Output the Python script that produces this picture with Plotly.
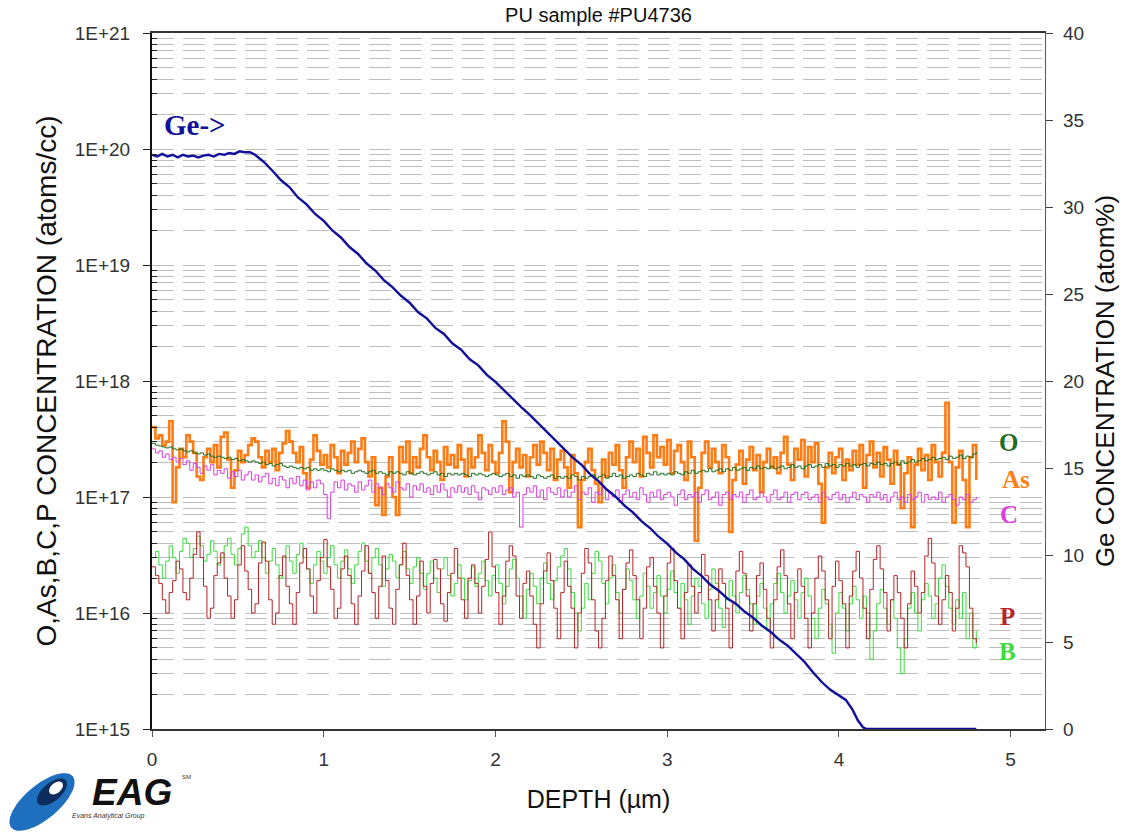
import numpy as np
import plotly.graph_objects as go

# ---------------- data ----------------
STEP = 0.02  # depth step (µm) of the impurity profiles

# O concentration (x1e16 atoms/cc)
O_vals = [
    29, 28, 27.5, 27, 26.5, 27, 26, 25.5, 26, 25,
    24.5, 25, 24, 23.5, 24, 23, 23.5, 22.5, 22, 22.5,
    22, 21.5, 22, 21, 21.5, 20.5, 21, 20.5, 20, 20.5,
    20, 19.5, 20, 19, 19.5, 18.5, 19, 19.5, 18.5, 18,
    18.5, 18, 17.5, 18, 17.5, 18, 17, 17.5, 17, 17.5,
    17, 16.5, 17.5, 17, 16.5, 17, 16.5, 17, 16, 16.5,
    17, 16.5, 16, 16.5, 17, 16, 16.5, 16, 15.5, 16.5,
    16, 16.5, 16, 15.5, 16.5, 16, 15.5, 16, 16.5, 16,
    15.5, 16, 16.5, 15.5, 16, 15, 16, 15.5, 16, 15.5,
    16, 15.5, 15, 16, 15.5, 16, 15.5, 15, 15.5, 16,
    15.5, 15, 15.5, 16, 15, 15.5, 14.5, 15.5, 15, 15.5,
    15, 14.5, 15.5, 15, 14.5, 15, 15.5, 14.5, 15, 14.5,
    15, 14.5, 15.5, 15, 14, 15, 14.5, 15, 15.5, 14.5,
    15, 15.5, 14.5, 15, 16, 15, 15.5, 14.5, 15, 15.5,
    15, 16, 15.5, 15, 16, 15.5, 16.5, 15.5, 16, 15.5,
    16, 15.5, 16.5, 16, 15.5, 16.5, 16, 17, 16, 16.5,
    17, 16.5, 17.5, 16.5, 17, 17.5, 16.5, 17.5, 17, 18,
    17, 17.5, 18, 17, 18, 17.5, 18.5, 17.5, 18, 17.5,
    18.5, 17.5, 18, 18.5, 17.5, 18, 19, 18, 18.5, 17.5,
    18.5, 19, 18, 18.5, 19, 18, 19.5, 18.5, 19, 18,
    19, 18.5, 19.5, 18.5, 19, 18, 19, 19.5, 18.5, 19.5,
    19, 20, 19, 19.5, 18.5, 19.5, 20, 19, 20.5, 19.5,
    20, 21, 20, 20.5, 21.5, 20.5, 21, 22, 21, 21.5,
    22, 21, 22.5, 21.5, 22, 23, 21.5, 22.5, 22, 23.5,
    24.5,
]

# As concentration (x1e16 atoms/cc)
As_vals = [
    40, 32, 34, 28, 30, 45, 9, 18, 26, 22,
    34, 30, 24, 15, 14, 22, 26, 20, 28, 18,
    33, 36, 21, 12, 17, 25, 20, 23, 28, 32,
    30, 22, 18, 25, 20, 26, 17, 24, 29, 37,
    30, 24, 20, 27, 16, 12, 21, 34, 25, 19,
    23, 18, 28, 22, 16, 25, 19, 24, 30, 20,
    26, 32, 20, 15, 22, 8.5, 12, 7, 15, 22,
    10, 7, 27, 20, 30, 16, 22, 18, 26, 34,
    22, 17, 25, 20, 14, 27, 19, 23, 18, 28,
    21, 15, 26, 18, 22, 34, 24, 17, 28, 20,
    16, 24, 45, 30, 11, 20, 26, 18, 23, 15,
    22, 28, 19, 30, 24, 17, 26, 14, 21, 25,
    18, 12, 23, 16, 5.5, 14, 20, 26, 17, 13,
    9, 21, 15, 24, 19, 28, 17, 12, 22, 30,
    20, 26, 15, 33, 24, 18, 34, 22, 27, 19,
    31, 16, 25, 28, 20, 14, 30, 22, 4.2, 12,
    24, 30, 18, 26, 20, 16, 28, 22, 5, 14,
    19, 25, 13, 21, 27, 17, 23, 11, 20, 26,
    18, 22, 16, 24, 33, 19, 14, 26, 21, 31,
    15, 27, 20, 29, 13, 6, 18, 24, 16, 22,
    26, 14, 21, 17, 25, 19, 28, 12, 23, 30,
    18, 24, 15, 27, 21, 13, 25, 19, 8, 16,
    22, 5.5, 19, 26, 17, 23, 14, 28, 20, 15,
    24, 65, 20, 6, 18, 25, 14, 5.5, 22, 28,
    14,
]

# C concentration (x1e16 atoms/cc)
C_vals = [
    26, 24, 25, 22, 23.5, 21, 22, 20, 21.5, 19,
    20.5, 17, 19.5, 18, 16, 18.5, 17, 19, 15.5, 17,
    16, 17.5, 14.5, 16.5, 15, 17, 14, 15.5, 16.5, 14,
    15.5, 13.5, 15, 16, 13, 14.5, 12.5, 15, 14, 12,
    14.5, 13, 15, 12.5, 14, 11.5, 13.5, 12, 14, 13,
    10.5, 6.5, 11, 13.5, 12, 14, 11.5, 13, 12.5, 11,
    13.5, 11.5, 12.5, 14, 11, 13, 12, 10.5, 13, 12,
    11, 13.5, 12, 11.5, 13, 10, 12.5, 11.5, 13, 11,
    12, 10.5, 12.5, 11, 13, 11.5, 10, 12, 11, 12.5,
    11, 12, 10.5, 12.5, 11, 9.5, 12, 11.5, 10.5, 12,
    11, 12.5, 10.5, 11.5, 12, 10, 11, 5.5, 10.5, 12,
    11, 12.5, 10, 11.5, 9.5, 12, 11, 10.5, 12, 10,
    11.5, 10, 11, 12.5, 9.5, 11, 10.5, 12, 9, 11,
    10.5, 12, 9.5, 11, 10, 11.5, 9, 10.5, 11.5, 10,
    11, 9.5, 12, 10.5, 9, 11, 10, 11.5, 9.5, 10.5,
    11, 10, 8.5, 10.5, 11.5, 9.5, 10.5, 10, 11, 9,
    10.5, 11.5, 9.5, 10, 11, 8.5, 10.5, 11, 9.5, 10.5,
    10, 11, 9, 10.5, 11.5, 9.5, 10, 11, 10, 9,
    10.5, 11.5, 9.5, 10, 11, 9, 10.5, 11, 9.5, 10.5,
    11, 9.5, 10, 10.5, 9, 11, 10, 9.5, 10.5, 11,
    9.5, 10.5, 9, 10, 11, 9.5, 10.5, 10, 9, 10.5,
    10, 11, 9.5, 10.5, 9, 10, 11, 9.5, 10, 9,
    10.5, 9.5, 10, 11, 9, 10.5, 9.5, 10, 9.5, 11,
    9, 10, 10.5, 9.5, 8.5, 10, 9.5, 10.5, 9, 9.5,
    10,
]

# P concentration (x1e15 atoms/cc)
P_vals = [
    25, 21, 18, 13, 10, 15, 19, 28, 24, 15,
    13, 20, 32, 50, 30, 17, 9, 11, 21, 27,
    33, 20, 14, 9, 13, 26, 38, 23, 16, 10,
    12, 27, 41, 28, 13, 8, 10, 21, 31, 17,
    12, 8, 15, 27, 36, 24, 14, 10, 19, 30,
    43, 25, 16, 9, 11, 24, 31, 21, 12, 8,
    14, 23, 38, 22, 15, 9, 17, 31, 19, 11,
    8, 16, 26, 40, 21, 13, 8, 14, 28, 17,
    10, 18, 29, 24, 12, 8.5, 15, 22, 36, 20,
    13, 9, 20, 26, 18, 10, 17, 29, 50, 25,
    15, 8, 14, 28, 38, 31, 14, 9, 18, 23,
    14, 8, 5, 12, 23, 33, 19, 11, 6, 15,
    28, 17, 11, 5, 10, 22, 36, 27, 13, 7,
    5, 9, 19, 31, 21, 13, 6, 16, 27, 35,
    21, 13, 6, 11, 25, 30, 17, 10, 5, 14,
    27, 36, 19, 11, 6, 15, 26, 17, 10, 15,
    32, 21, 13, 7, 13, 24, 18, 11, 5, 12,
    23, 34, 22, 14, 7, 12, 21, 27, 16, 9,
    5, 13, 25, 35, 21, 12, 6, 15, 24, 17,
    9, 5, 10, 20, 31, 23, 13, 6, 17, 28,
    19, 12, 5, 14, 23, 34, 20, 11, 6, 16,
    29, 38, 24, 15, 7, 13, 21, 15, 9, 5,
    12, 23, 17, 10, 15, 31, 44, 27, 14, 8,
    13, 21, 15, 7, 11, 38, 33, 25, 11, 6,
    5.5,
]

# B concentration (x1e15 atoms/cc)
B_vals = [
    30, 34, 26, 20, 28, 38, 30, 22, 34, 44,
    40, 30, 36, 46, 38, 28, 32, 42, 34, 26,
    30, 38, 44, 32, 26, 36, 48, 55, 38, 30,
    34, 42, 30, 22, 28, 36, 26, 20, 30, 38,
    28, 22, 32, 40, 30, 24, 18, 26, 34, 28,
    22, 30, 38, 26, 20, 28, 35, 24, 18, 26,
    34, 40, 28, 22, 30, 36, 26, 17, 24, 32,
    28, 20, 26, 34, 24, 18, 25, 30, 22, 16,
    22, 28, 20, 15, 24, 30, 21, 14, 18, 26,
    20, 13, 19, 25, 17, 22, 28, 19, 14, 21,
    26, 18, 12, 17, 24, 29, 20, 14, 9, 16,
    22, 17, 12, 20, 27, 18, 13, 19, 25, 31,
    36, 24, 15, 10, 7, 11, 18, 13, 22, 34,
    28, 18, 12, 20, 26, 15, 10, 16, 24, 19,
    13, 9, 14, 22, 17, 11, 15, 21, 14, 10,
    16, 23, 15, 11, 18, 13, 8, 14, 20, 17,
    12, 9, 16, 24, 18, 11, 7.5, 13, 19, 14,
    10, 15, 21, 16, 12, 8, 14, 18, 11, 7,
    12, 18, 22, 15, 10, 14, 19, 13, 9, 15,
    20, 14, 9, 6, 11, 16, 12, 8, 4.5, 10,
    15, 11, 7, 12, 17, 13, 9, 14, 10, 4,
    7, 12, 16, 11, 8, 13, 9, 5, 3, 6,
    11, 15, 10, 7, 13, 18, 14, 9, 12, 20,
    26, 17, 11, 8, 13, 9, 15, 6, 10, 5,
    7,
]

# Ge concentration (atom %) on its own depth points
Ge_depth = [0.00, 0.03, 0.06, 0.09, 0.12, 0.15, 0.18, 0.21, 0.24, 0.27,
            0.30, 0.33, 0.36, 0.39, 0.42, 0.45, 0.48, 0.51, 0.54, 0.57,
            0.60, 0.65, 0.70, 0.75, 0.80, 0.85, 0.90, 0.95, 1.00, 1.05,
            1.10, 1.15, 1.20, 1.25, 1.30, 1.35, 1.40, 1.45, 1.50, 1.55,
            1.60, 1.65, 1.70, 1.75, 1.80, 1.85, 1.90, 1.95, 2.00, 2.05,
            2.10, 2.15, 2.20, 2.25, 2.30, 2.35, 2.40, 2.45, 2.50, 2.55,
            2.60, 2.65, 2.70, 2.75, 2.80, 2.85, 2.90, 2.95, 3.00, 3.05,
            3.10, 3.15, 3.20, 3.25, 3.30, 3.35, 3.40, 3.45, 3.50, 3.55,
            3.60, 3.65, 3.70, 3.75, 3.80, 3.85, 3.90, 3.95, 4.00, 4.04,
            4.08, 4.11, 4.14, 4.16, 4.30, 4.50, 4.80]
Ge_pct = [33.0, 32.9, 33.05, 32.9, 33.0, 32.85, 33.0, 32.9, 32.95, 32.85,
          32.95, 33.0, 32.9, 33.05, 33.0, 33.1, 33.05, 33.2, 33.15, 33.15,
          33.0, 32.6, 32.1, 31.55, 31.15, 30.55, 30.15, 29.6, 29.2, 28.65,
          28.25, 27.7, 27.3, 26.75, 26.35, 25.8, 25.4, 24.9, 24.5, 23.95,
          23.6, 23.05, 22.7, 22.15, 21.8, 21.25, 20.9, 20.35, 19.95, 19.45,
          19.0, 18.5, 18.05, 17.55, 17.1, 16.55, 16.1, 15.6, 15.2, 14.65,
          14.25, 13.75, 13.35, 12.85, 12.45, 11.95, 11.55, 11.05, 10.65, 10.15,
          9.75, 9.2, 8.8, 8.3, 7.95, 7.5, 7.2, 6.75, 6.4, 5.95,
          5.6, 5.15, 4.8, 4.3, 3.85, 3.25, 2.7, 2.25, 1.95, 1.67,
          1.1, 0.5, 0.1, 0.0, 0.0, 0.0, 0.0]

title_text = "PU sample #PU4736"
x_title = "DEPTH (µm)"
y_left_title = "O,As,B,C,P CONCENTRATION (atoms/cc)"
y_right_title = "Ge CONCENTRATION (atom%)"
left_tick_vals = [1e15, 1e16, 1e17, 1e18, 1e19, 1e20, 1e21]
left_tick_text = ["1E+15", "1E+16", "1E+17", "1E+18", "1E+19", "1E+20", "1E+21"]
right_tick_vals = [0, 5, 10, 15, 20, 25, 30, 35, 40]
x_tick_vals = [0, 1, 2, 3, 4, 5]

# ---------------- figure ----------------
W, H = 1134, 838
L, R, T, B = 152, 89, 33, 109


def depth_of(vals):
    return np.round(np.arange(len(vals)) * STEP, 3)


fig = go.Figure()

series = [
    ("As", As_vals, 1e16, "#ff7c14", 2.6),
    ("C", C_vals, 1e16, "#dd3ddd", 1.0),
    ("O", O_vals, 1e16, "#1f6f1f", 1.0),
    ("B", B_vals, 1e15, "#3ddc3d", 1.0),
    ("P", P_vals, 1e15, "#b82428", 1.0),
]
for name, vals, unit, color, width in series:
    fig.add_trace(go.Scatter(
        x=depth_of(vals), y=np.array(vals, dtype=float) * unit,
        mode="lines", name=name,
        line=dict(color=color, width=width, shape="hv"),
        yaxis="y", showlegend=False))

fig.add_trace(go.Scatter(
    x=Ge_depth, y=Ge_pct, mode="lines", name="Ge",
    line=dict(color="#10109a", width=2.4), yaxis="y2", showlegend=False))

minor_vals = [float(m) * 10.0 ** e for e in range(15, 21) for m in range(2, 10)]
grid_dash = "22px,9px"
grid_col = "#bdbdbd"
FONT = "Liberation Sans, Arial"
tick_font = dict(family=FONT, size=19, color="#333333")

fig.update_layout(
    width=W, height=H,
    margin=dict(l=L, r=R, t=T, b=B, autoexpand=False),
    paper_bgcolor="white", plot_bgcolor="white",
    title=dict(text=title_text, x=0.5, xref="paper", y=1 - 15 / H,
               yanchor="middle", xanchor="center",
               font=dict(family=FONT, size=20, color="#111111")),
    xaxis=dict(range=[0, 5.2], tickvals=x_tick_vals, ticks="outside", ticklen=6,
               tickcolor="#555555", showgrid=False, zeroline=False,
               showline=True, linecolor="#333333", linewidth=1.5, mirror=True,
               tickfont=tick_font, ticklabelstandoff=6,
               title=dict(text=x_title, font=dict(family=FONT, size=25, color="#111111"),
                          standoff=22)),
    yaxis=dict(type="log", range=[15, 21], tickvals=left_tick_vals,
               ticktext=left_tick_text, ticks="outside", ticklen=7,
               tickcolor="#222222", ticklabelstandoff=9,
               showline=True, linecolor="#111111", linewidth=2,
               showgrid=True, gridcolor=grid_col, griddash=grid_dash, gridwidth=1,
               zeroline=False, tickfont=tick_font,
               minor=dict(tickvals=minor_vals, ticks="inside", ticklen=5,
                          tickcolor="#222222", showgrid=True, gridcolor=grid_col,
                          griddash=grid_dash, gridwidth=1),
               title=dict(text=y_left_title,
                          font=dict(family=FONT, size=28, color="#111111"),
                          standoff=10)),
    yaxis2=dict(range=[0, 40], tickvals=right_tick_vals, overlaying="y",
                side="right", ticks="outside", ticklen=7, tickcolor="#444444",
                showline=True, linecolor="#555555", linewidth=1.3,
                showgrid=False, zeroline=False, tickfont=tick_font,
                ticklabelstandoff=6,
                title=dict(text=y_right_title,
                           font=dict(family=FONT, size=26, color="#111111"),
                           standoff=12)),
)

# series labels
lab_font = "Liberation Serif, Times New Roman, serif"
labels = [
    ("O", 4.99, 17.474, "#1f6f1f"),
    ("As", 5.03, 17.147, "#ff7c14"),
    ("C", 4.99, 16.845, "#dd3ddd"),
    ("P", 4.98, 15.966, "#b82428"),
    ("B", 4.98, 15.664, "#3ddc3d"),
]
for txt, xx, yy, col in labels:
    fig.add_annotation(x=xx, y=yy, xref="x", yref="y", text=f"<b>{txt}</b>",
                       showarrow=False, xanchor="center", yanchor="middle",
                       font=dict(family=lab_font, size=25, color=col))
fig.add_annotation(x=0.25, y=20.207, xref="x", yref="y", text="<b>Ge-></b>",
                   showarrow=False, xanchor="center", yanchor="middle",
                   font=dict(family=lab_font, size=29, color="#10109a"))

# ---------------- EAG logo (decoration) ----------------
PW, PH = W - L - R, H - T - B


def px(X):
    return (X - L) / PW


def py(Y):
    return (H - B - Y) / PH


def ellipse_path(cx, cy, rx, ry, ang_deg, n=60):
    a = np.deg2rad(ang_deg)
    t = np.linspace(0, 2 * np.pi, n)
    xs = cx + rx * np.cos(t) * np.cos(a) - ry * np.sin(t) * np.sin(a)
    ys = cy + rx * np.cos(t) * np.sin(a) + ry * np.sin(t) * np.cos(a)
    pts = [f"{px(x):.5f},{py(y):.5f}" for x, y in zip(xs, ys)]
    return "M " + " L ".join(pts) + " Z"


fig.add_shape(type="path", xref="paper", yref="paper",
              path=ellipse_path(42, 802, 40, 17, -40),
              fillcolor="#1f6fbf", line=dict(width=0), layer="above")
fig.add_shape(type="path", xref="paper", yref="paper",
              path=ellipse_path(52, 792, 18, 9, -40),
              fillcolor="#0c2d5c", line=dict(width=0), layer="above")
fig.add_shape(type="path", xref="paper", yref="paper",
              path=ellipse_path(56, 788, 8, 5, -40),
              fillcolor="#ffffff", line=dict(width=0), layer="above")
fig.add_annotation(x=px(132), y=py(792), xref="paper", yref="paper",
                   text="<b><i>EAG</i></b>", showarrow=False,
                   xanchor="center", yanchor="middle", borderpad=0,
                   font=dict(family=FONT, size=37, color="#111111"))
fig.add_annotation(x=px(108), y=py(816), xref="paper", yref="paper",
                   text="<i>Evans Analytical Group</i>", showarrow=False,
                   xanchor="center", yanchor="middle", borderpad=0,
                   font=dict(family=FONT, size=7, color="#333333"))
fig.add_annotation(x=px(186), y=py(777), xref="paper", yref="paper",
                   text="SM", showarrow=False, xanchor="center", yanchor="middle",
                   borderpad=0,
                   font=dict(family=FONT, size=6, color="#333333"))

fig.write_html("out.html")
